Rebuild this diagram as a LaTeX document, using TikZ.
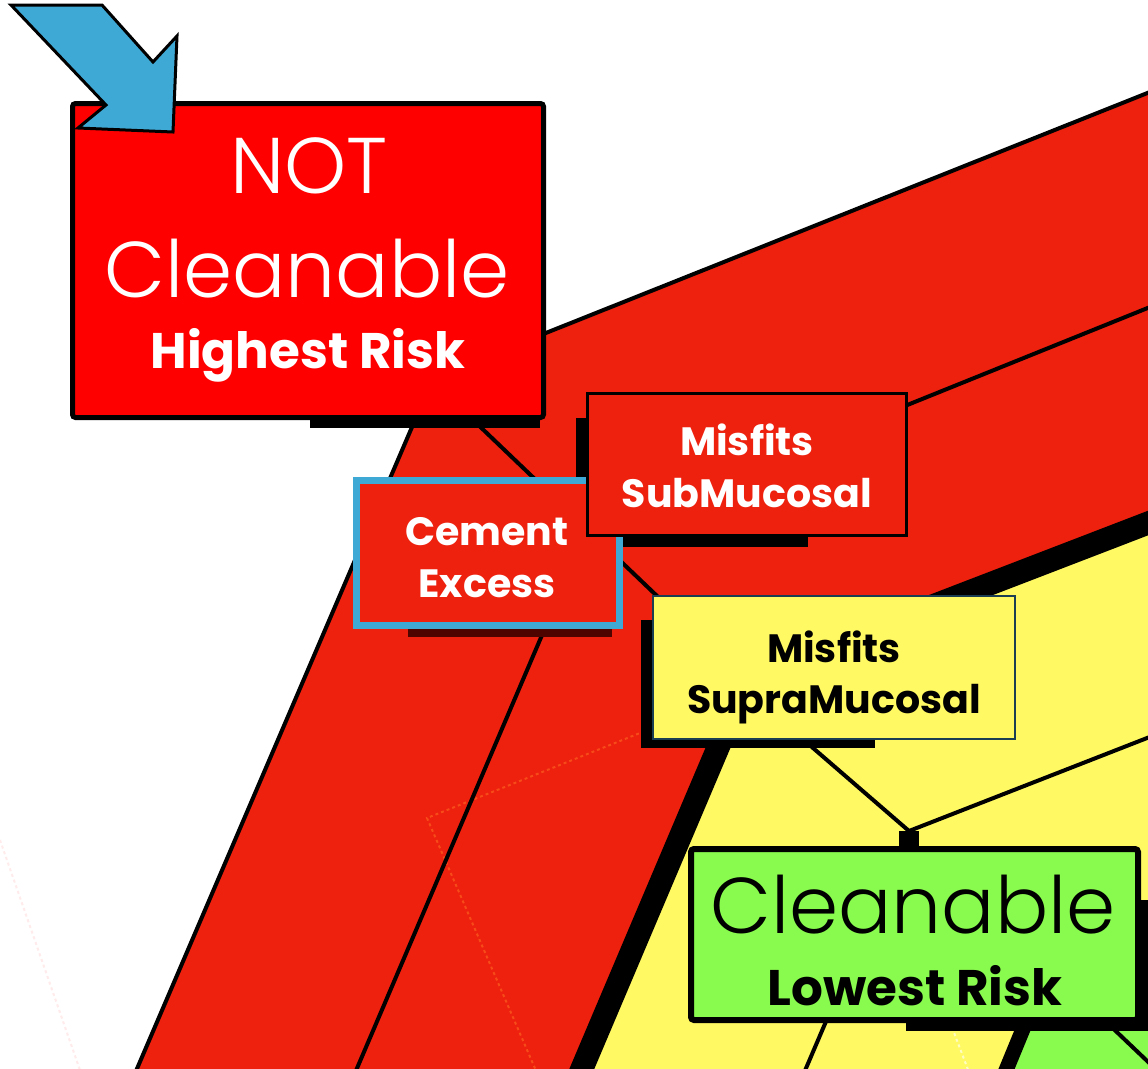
\documentclass[tikz,border=0pt]{standalone}
\usepackage{fontspec}
\setmainfont{Poppins}
\newfontfamily\lightface{Poppins Light}
\usetikzlibrary{positioning}

\definecolor{riskred}{RGB}{237,33,14}
\definecolor{alertred}{RGB}{255,0,0}
\definecolor{lowyellow}{RGB}{255,249,100}
\definecolor{safegreen}{RGB}{137,250,78}
\definecolor{pointer}{RGB}{63,169,213}
\definecolor{tealedge}{RGB}{28,62,82}
\definecolor{darkred}{RGB}{80,4,0}
\definecolor{faintorange}{RGB}{247,75,25}

\begin{document}
\begin{tikzpicture}[
    x=1pt, y=-1pt,
    box/.style={draw, inner sep=0pt, outer sep=0pt},
    bigword/.style={anchor=base, inner sep=0pt, font=\lightface\fontsize{79}{79}\selectfont},
    riskword/.style={anchor=base, inner sep=0pt, font=\bfseries\fontsize{50}{50}\selectfont},
    smallword/.style={anchor=base, inner sep=0pt, font=\bfseries\fontsize{39.5}{40}\selectfont},
    rim/.style={line width=4pt},
    ridge/.style={line width=23pt},
    ghost/.style={line width=2pt, dash pattern=on 3pt off 3pt},
    backdrop/.style={fill=black}
]
    \useasboundingbox (0,0) rectangle (1148,1068);
    \clip (0,0) rectangle (1148,1068);
    \fill[white] (0,0) rectangle (1148,1068);

    % corner points of the faces
    \coordinate (apex) at (433,378);
    \coordinate (knee) at (748,677);
    \coordinate (hub) at (909,831);
    \coordinate (fold) at (427,818);

    % faces
    \fill[riskred] (apex) -- (1165,86) -- (1165,516.5) -- (knee) -- (575,1085) -- (130,1085) -- cycle;
    \fill[lowyellow] (knee) -- (1165,516.5) -- (1165,1085) -- (575,1085) -- cycle;
    \fill[safegreen] (1039,990) -- (1165,990) -- (1165,1085) -- (1002,1085) -- cycle;

    % faint guide lines
    \draw[ghost, faintorange] (650,729) -- (fold) -- (537,1073);
    \draw[ghost, red!8] (0,840) -- (81,1073);
    \draw[ghost, white!60!lowyellow] (950,1022) -- (970,1075);

    % edges
    \coordinate (diagtop) at (470,417);
    \coordinate (diagend) at (680,618);
    \coordinate (midtop) at (557,600);
    \coordinate (subend) at (880,416);
    \coordinate (supraleg) at (798,735);
    \draw[rim] (apex) -- (1165,86);
    \draw[rim] (apex) -- (130,1085);
    \draw[rim] (midtop) -- (352,1080);
    \draw[rim] (diagtop) -- (diagend);
    \draw[rim] (subend) -- (1165,301);
    \draw[ridge] (1165,516.5) -- (knee) -- (575,1085);
    \draw[rim] (supraleg) -- (hub) -- (1165,731);
    \draw[line width=20pt] (hub) -- (909,852);
    \draw[rim] (830,1012) -- (801,1080);
    \draw[line width=15pt] (1030,1012) -- (1002,1080);
    \draw[rim] (1100,1016) -- (1165,1078);

    % shadows
    \fill[backdrop] (310,300) rectangle (540,428);
    \fill[backdrop] (576,418) rectangle (808,547);
    \fill[darkred] (408,560) rectangle (612,637);
    \fill[backdrop] (641,620) rectangle (875,748);
    \fill[backdrop] (906,900) rectangle (1148,1031);

    % boxes
    \node[box, fill=alertred, line width=5pt, rounded corners=3pt, minimum width=471pt, minimum height=314pt] (hardbox) at (308,260.5) {};
    \node[bigword, text=white] (hardtop) at (309,193) {NOT};
    \node[bigword, text=white] (hardmid) at (307,297) {Cleanable};
    \node[riskword, text=white] (hardrisk) at (308,368) {Highest Risk};

    \node[box, draw=pointer, fill=riskred, line width=7pt, minimum width=263pt, minimum height=145pt] (cement) at (488,553) {};
    \node[smallword, text=white] (cementtop) at (487,545) {Cement};
    \node[smallword, text=white] (cementlow) at (487,597) {Excess};

    \node[box, fill=riskred, line width=3pt, minimum width=319pt, minimum height=142pt] (submuc) at (747,464.5) {};
    \node[smallword, text=white] (submuctop) at (747,455) {Misfits};
    \node[smallword, text=white] (submuclow) at (747,507) {SubMucosal};

    \node[box, draw=tealedge, fill=lowyellow, line width=2.5pt, minimum width=362pt, minimum height=143pt] (supra) at (834,667.5) {};
    \node[smallword] (supratop) at (834,662) {Misfits};
    \node[smallword] (supralow) at (834,713) {SupraMucosal};

    \node[box, fill=safegreen, line width=6pt, rounded corners=3pt, minimum width=447pt, minimum height=171pt] (cleanbox) at (914.5,934.5) {};
    \node[bigword] (cleantop) at (913,933) {Cleanable};
    \node[riskword] (cleanrisk) at (915,1005) {Lowest Risk};

    % pointer arrow
    \draw[fill=pointer, line width=3pt, line join=miter] (11,5) -- (102,5) -- (153,62) -- (177,36) -- (173,132) -- (78,128) -- (106,105) -- cycle;
\end{tikzpicture}
\end{document}
